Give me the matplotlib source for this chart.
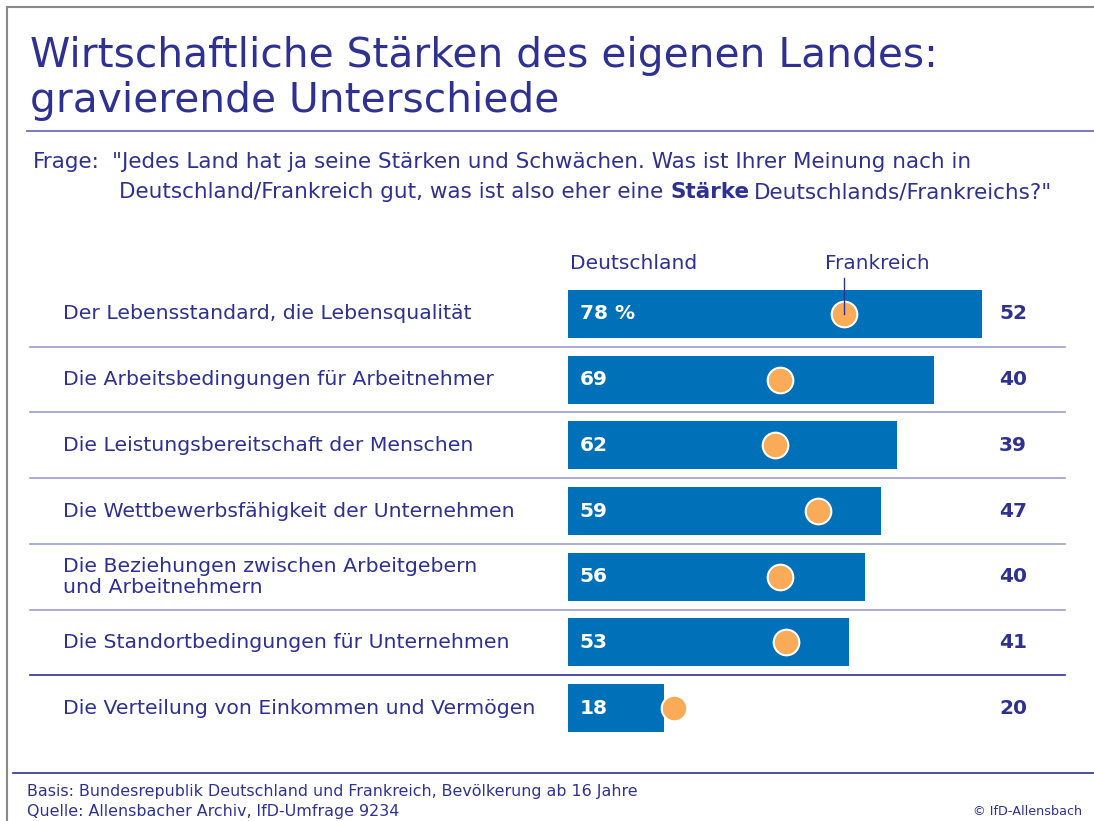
import matplotlib.pyplot as plt
import matplotlib.transforms as mtransforms
from matplotlib.lines import Line2D

# data
categories = [
    "Der Lebensstandard, die Lebensqualität",
    "Die Arbeitsbedingungen für Arbeitnehmer",
    "Die Leistungsbereitschaft der Menschen",
    "Die Wettbewerbsfähigkeit der Unternehmen",
    "Die Beziehungen zwischen Arbeitgebern\nund Arbeitnehmern",
    "Die Standortbedingungen für Unternehmen",
    "Die Verteilung von Einkommen und Vermögen",
]
deutschland = [78, 69, 62, 59, 56, 53, 18]
frankreich = [52, 40, 39, 47, 40, 41, 20]

navy = "#2e3192"
bar_blue = "#0071b9"
orange = "#f9ab57"
sep_col = "#9c9ccc"

plt.rcParams['font.family'] = ['DejaVu Sans']

W, H = 1094, 821
fig = plt.figure(figsize=(W / 100, H / 100), dpi=100)


def fx(px):
    return px / W


def fy(py):
    return 1 - py / H


# bar axes: value 0 at x=568 px, 5.31 px per percent
x0, x1 = 568, 1062
ax = fig.add_axes([fx(x0), fy(741), fx(x1 - x0), (741 - 281) / H])
ax.set_xlim(0, (x1 - x0) / 5.31)
ax.set_ylim(6.5, -0.5)
ax.axis('off')

rows = list(range(len(categories)))
ax.barh(rows, deutschland, height=0.73, color=bar_blue, zorder=2)
ax.scatter(frankreich, rows, s=340, color=orange, edgecolor='white',
           linewidth=1.5, zorder=3, clip_on=False)

# pointer line for "Frankreich" label
ax.plot([frankreich[0], frankreich[0]], [0, -0.55], color=navy, lw=1, zorder=4,
        clip_on=False)
ax.text(frankreich[0] + 6.3, -0.76, "Frankreich", color=navy, fontsize=14.4,
        ha='center', va='center')
ax.text(0.3, -0.76, "Deutschland", color=navy, fontsize=14.6, ha='left',
        va='center')

blend = mtransforms.blended_transform_factory(fig.transFigure, ax.transData)

for i, (cat, d, f) in enumerate(zip(categories, deutschland, frankreich)):
    lab = f"{d} %" if i == 0 else f"{d}"
    ax.text(2.2, i, lab, color='white', fontsize=14.5, fontweight='bold',
            ha='left', va='center', zorder=5)
    fig.text(fx(1013), i, f"{f}", transform=blend, color=navy, fontsize=14.5,
             fontweight='bold', ha='center', va='center')
    fig.text(fx(63), i, cat, transform=blend, color=navy, fontsize=14.7,
             ha='left', va='center', linespacing=1.15)
    # separator lines
    if i < len(categories) - 1:
        col = sep_col if i < len(categories) - 2 else navy
        fig.add_artist(Line2D([fx(30), fx(1065)], [i + 0.5, i + 0.5],
                              transform=blend, color=col, lw=1.2))

# title
fig.text(fx(30), fy(67), "Wirtschaftliche Stärken des eigenen Landes:",
         color=navy, fontsize=29.3, va='baseline', ha='left')
fig.text(fx(30), fy(112), "gravierende Unterschiede",
         color=navy, fontsize=29.3, va='baseline', ha='left')
fig.add_artist(Line2D([fx(27), fx(1094)], [fy(131), fy(131)], color="#6b6fbe",
                      lw=1.3))

# question
qs = 15.5
fig.text(fx(33), fy(168), "Frage:", color=navy, fontsize=qs, va='baseline')
fig.text(fx(112), fy(168),
         "\"Jedes Land hat ja seine Stärken und Schwächen. Was ist Ihrer Meinung nach in",
         color=navy, fontsize=qs, va='baseline')
t1 = fig.text(fx(119), fy(198),
              "Deutschland/Frankreich gut, was ist also eher eine ",
              color=navy, fontsize=qs, va='baseline')
fig.canvas.draw()
r = fig.canvas.get_renderer()
bb = t1.get_window_extent(r)
t2 = fig.text(bb.x1 / W, fy(198), "Stärke", color=navy, fontsize=qs,
              fontweight='bold', va='baseline')
bb2 = t2.get_window_extent(r)
fig.text(bb2.x1 / W + 5 / W, fy(198), "Deutschlands/Frankreichs?\"",
         color=navy, fontsize=qs, va='baseline')

# footer
fig.add_artist(Line2D([fx(13), fx(1094)], [fy(773), fy(773)], color=navy,
                      lw=1.2))
fig.text(fx(27), fy(791), "Basis: Bundesrepublik Deutschland und Frankreich, Bevölkerung ab 16 Jahre",
         color=navy, fontsize=11.4, va='center')
fig.text(fx(27), fy(811), "Quelle: Allensbacher Archiv, IfD-Umfrage 9234",
         color=navy, fontsize=11.4, va='center')
fig.text(fx(1082), fy(811), "© IfD-Allensbach", color=navy, fontsize=9.2,
         va='center', ha='right')

# frame
fig.add_artist(Line2D([fx(7), fx(7)], [fy(7), 0], color="#8a8a8a", lw=1.5))
fig.add_artist(Line2D([fx(7), 1], [fy(7), fy(7)], color="#8a8a8a", lw=1.5))

fig.savefig("out.png", dpi=100)
